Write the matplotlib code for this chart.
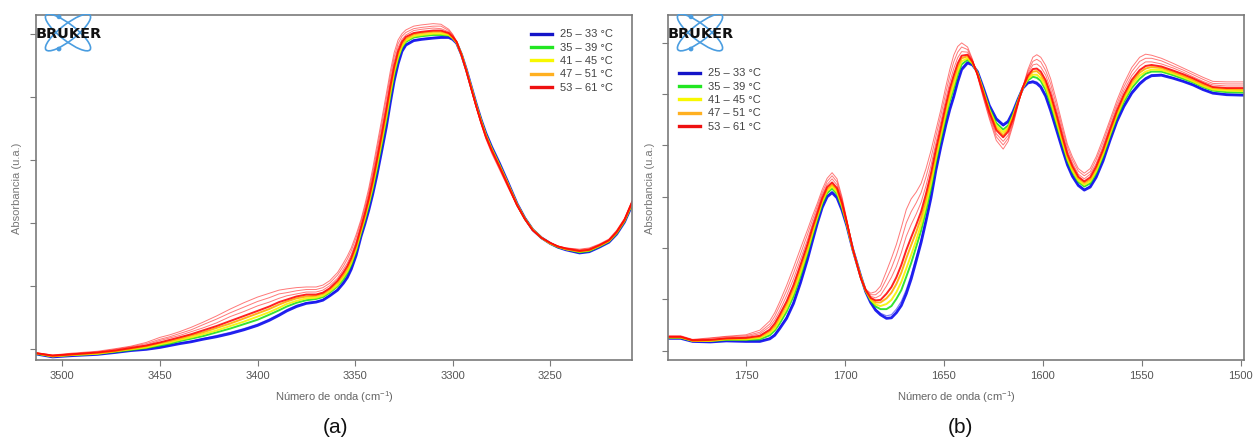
import matplotlib
matplotlib.use('Agg')
import matplotlib.pyplot as plt
from matplotlib.patches import Ellipse, Circle
from matplotlib.lines import Line2D

plt.rcParams['font.family'] = ['Liberation Sans', 'DejaVu Sans']
plt.rcParams['mathtext.fontset'] = 'custom'
plt.rcParams['mathtext.rm'] = 'Liberation Sans'

# ---------------- data ----------------
temps = [25, 29, 37, 43, 49, 53, 56, 59, 61]
legend_labels = ['25 – 33 °C', '35 – 39 °C', '41 – 45 °C', '47 – 51 °C', '53 – 61 °C']

# panel (a): 3515-3208 cm-1
a_wavenumber = [3514, 3505, 3495, 3482, 3473, 3465, 3457, 3450, 3445, 3440,
                3434, 3428, 3421, 3414, 3407, 3400, 3394, 3389, 3385, 3380,
                3375, 3370, 3366.5, 3363, 3359, 3356, 3354, 3352, 3349.5, 3347,
                3345, 3343, 3341, 3339, 3336.5, 3334, 3332, 3330, 3328, 3326,
                3324, 3320, 3316, 3310, 3306, 3302, 3300, 3298, 3295.5, 3293,
                3290.5, 3288, 3285.5, 3283, 3280, 3276, 3272, 3267, 3263, 3259,
                3254.5, 3250, 3246, 3242, 3235, 3230, 3225, 3220, 3216, 3212,
                3208]
a_25 = [-.008, -.013, -.011, -.009, -.006, -.003, -.001, .002, .005, .008,
        .011, .015, .019, .024, .030, .037, .045, .053, .060, .067,
        .072, .074, .077, .084, .093, .104, .113, .126, .148, .178,
        .198, .220, .245, .273, .312, .352, .390, .425, .452, .472,
        .482, .489, .491, .493, .494, .494, .491, .485, .467, .443,
        .416, .389, .364, .342, .320, .294, .266, .230, .207, .189,
        .176, .167, .161, .157, .152, .154, .161, .169, .182, .201,
        .229]
a_29 = [-.008, -.013, -.011, -.009, -.006, -.003, .000, .003, .006, .009,
        .012, .016, .021, .026, .032, .039, .047, .055, .062, .069,
        .073, .075, .078, .085, .094, .106, .115, .128, .150, .179,
        .200, .222, .247, .275, .315, .355, .393, .427, .454, .473,
        .483, .490, .492, .494, .495, .495, .491, .485, .467, .443,
        .416, .389, .364, .342, .320, .294, .266, .230, .207, .189,
        .176, .167, .161, .157, .152, .154, .161, .169, .182, .201,
        .229]
a_37 = [-.008, -.012, -.010, -.008, -.005, -.002, .001, .005, .008, .012,
        .016, .020, .026, .032, .039, .046, .054, .061, .067, .073,
        .077, .079, .082, .089, .099, .110, .120, .133, .155, .183,
        .204, .227, .253, .282, .322, .363, .400, .434, .460, .478,
        .487, .494, .496, .498, .498, .497, .493, .486, .467, .442,
        .415, .388, .363, .340, .318, .292, .264, .229, .207, .189,
        .176, .167, .161, .158, .153, .155, .162, .170, .183, .202,
        .230]
a_43 = [-.007, -.012, -.010, -.008, -.004, -.001, .002, .007, .010, .014,
        .018, .023, .029, .036, .043, .051, .058, .065, .071, .076,
        .080, .081, .084, .091, .101, .114, .123, .136, .158, .186,
        .207, .231, .257, .287, .327, .368, .405, .439, .463, .480,
        .489, .496, .498, .500, .500, .498, .493, .486, .467, .442,
        .415, .387, .362, .339, .317, .291, .264, .229, .206, .189,
        .176, .167, .162, .158, .154, .156, .163, .171, .184, .203,
        .231]
a_49 = [-.007, -.012, -.009, -.007, -.004, .000, .004, .009, .012, .016,
        .021, .026, .033, .040, .048, .056, .063, .070, .075, .080,
        .083, .084, .087, .094, .105, .117, .127, .140, .162, .189,
        .211, .235, .262, .293, .333, .374, .411, .444, .468, .484,
        .492, .499, .501, .503, .503, .500, .494, .486, .467, .442,
        .414, .386, .361, .338, .316, .290, .263, .228, .206, .189,
        .176, .167, .162, .158, .155, .157, .163, .171, .185, .204,
        .232]
a_53 = [-.007, -.011, -.009, -.006, -.003, .001, .005, .010, .014, .018,
        .023, .029, .036, .044, .052, .060, .067, .074, .078, .083,
        .086, .086, .089, .096, .108, .121, .131, .144, .165, .192,
        .214, .238, .266, .297, .338, .380, .416, .448, .472, .487,
        .495, .501, .503, .505, .505, .501, .495, .487, .466, .441,
        .413, .386, .360, .337, .315, .289, .262, .228, .206, .188,
        .176, .168, .162, .159, .155, .157, .164, .172, .185, .204,
        .233]
a_56 = [-.007, -.011, -.008, -.006, -.002, .002, .006, .013, .017, .021,
        .027, .033, .041, .051, .059, .068, .074, .080, .084, .087,
        .090, .090, .093, .100, .112, .126, .136, .149, .170, .196,
        .219, .244, .273, .305, .346, .388, .424, .456, .478, .491,
        .498, .505, .507, .509, .508, .503, .496, .487, .466, .441,
        .413, .385, .359, .336, .313, .287, .261, .227, .206, .188,
        .176, .168, .162, .159, .156, .158, .164, .172, .186, .205,
        .234]
a_59 = [-.006, -.010, -.008, -.005, -.001, .003, .008, .015, .019, .024,
        .030, .038, .047, .057, .066, .075, .081, .087, .089, .092,
        .094, .094, .097, .104, .117, .131, .142, .155, .176, .201,
        .224, .249, .279, .312, .354, .397, .432, .463, .484, .496,
        .502, .508, .510, .512, .512, .505, .498, .488, .466, .440,
        .412, .384, .358, .334, .312, .286, .259, .227, .205, .188,
        .176, .168, .163, .160, .157, .159, .165, .173, .187, .206,
        .235]
a_61 = [-.006, -.010, -.007, -.004, .000, .004, .010, .018, .022, .027,
        .034, .042, .052, .063, .073, .082, .088, .093, .095, .097,
        .098, .098, .101, .108, .121, .136, .147, .160, .181, .205,
        .229, .255, .286, .320, .362, .405, .440, .470, .490, .500,
        .506, .512, .514, .516, .515, .507, .499, .488, .466, .440,
        .411, .383, .357, .333, .310, .284, .258, .226, .205, .188,
        .176, .168, .163, .160, .158, .160, .166, .174, .188, .207,
        .236]

# panel (b): 1790-1498 cm-1
b_wavenumber = [1789, 1783, 1777, 1768, 1760, 1750, 1743, 1738, 1735.5, 1733,
                1729.5, 1726, 1722.5, 1719, 1716.5, 1714, 1711.5, 1709, 1706.5, 1704,
                1701.5, 1699, 1696, 1692, 1689.5, 1687, 1684.5, 1682, 1679, 1676.5,
                1674, 1671.5, 1669, 1666.5, 1664, 1661.5, 1659, 1656.5, 1654, 1651.5,
                1649, 1647, 1645, 1643, 1641, 1638, 1635.5, 1633, 1630, 1627,
                1623.5, 1620, 1617.5, 1615, 1612.5, 1610, 1607.5, 1605, 1603, 1601,
                1598.5, 1596, 1593, 1590, 1587.5, 1585, 1582, 1579, 1576, 1573,
                1569.5, 1566, 1562.5, 1559, 1555, 1551, 1548, 1545, 1540, 1534,
                1529, 1524, 1519, 1514, 1507, 1498]
b_25 = [.024, .024, .018, .017, .019, .018, .018, .023, .030, .043,
        .063, .092, .132, .177, .213, .248, .279, .300, .308, .298,
        .274, .243, .197, .145, .115, .094, .079, .070, .063, .064,
        .074, .088, .111, .140, .175, .211, .253, .298, .352, .398,
        .440, .470, .495, .524, .548, .561, .557, .544, .512, .478,
        .452, .440, .447, .466, .490, .512, .522, .524, .521, .514,
        .496, .468, .430, .392, .362, .340, .322, .313, .319, .338,
        .370, .410, .447, .476, .502, .520, .530, .536, .537, .531,
        .525, .518, .509, .502, .499, .498]
b_29 = [.024, .024, .018, .017, .019, .019, .019, .025, .032, .046,
        .066, .096, .135, .180, .215, .250, .281, .302, .310, .300,
        .275, .244, .197, .145, .115, .095, .081, .073, .068, .070,
        .081, .096, .119, .148, .182, .217, .258, .303, .356, .402,
        .444, .474, .499, .528, .551, .563, .558, .544, .511, .477,
        .450, .438, .445, .465, .489, .512, .523, .526, .524, .517,
        .499, .471, .433, .394, .364, .342, .324, .315, .321, .340,
        .372, .412, .449, .478, .505, .523, .532, .538, .539, .532,
        .526, .519, .510, .503, .500, .499]
b_37 = [.025, .025, .019, .019, .021, .021, .022, .030, .039, .053,
        .076, .106, .145, .189, .223, .256, .286, .307, .316, .305,
        .279, .245, .197, .144, .116, .098, .086, .081, .081, .087,
        .101, .118, .144, .171, .202, .234, .273, .316, .368, .412,
        .455, .486, .511, .538, .558, .567, .559, .542, .508, .473,
        .444, .431, .439, .461, .488, .513, .527, .534, .532, .526,
        .508, .480, .441, .402, .370, .348, .329, .320, .326, .346,
        .379, .418, .455, .485, .512, .530, .540, .544, .544, .537,
        .530, .523, .514, .507, .504, .503]
b_43 = [.026, .026, .019, .019, .022, .022, .025, .034, .043, .059,
        .082, .113, .152, .194, .228, .260, .290, .311, .320, .309,
        .282, .247, .197, .144, .117, .099, .090, .087, .091, .099,
        .114, .134, .160, .187, .215, .246, .284, .326, .375, .420,
        .463, .493, .519, .545, .564, .570, .560, .541, .506, .470,
        .439, .426, .435, .458, .486, .513, .530, .538, .538, .531,
        .514, .487, .447, .406, .374, .351, .332, .323, .330, .350,
        .383, .422, .459, .490, .517, .536, .544, .548, .547, .540,
        .533, .525, .516, .509, .507, .506]
b_49 = [.026, .026, .020, .020, .023, .024, .027, .038, .048, .065,
        .090, .121, .160, .201, .234, .264, .294, .315, .324, .314,
        .285, .248, .197, .143, .117, .102, .094, .094, .102, .113,
        .130, .152, .180, .206, .231, .259, .296, .337, .385, .428,
        .472, .503, .529, .553, .570, .574, .562, .540, .504, .467,
        .434, .420, .431, .455, .485, .513, .533, .544, .545, .538,
        .521, .494, .454, .412, .379, .356, .336, .327, .334, .355,
        .388, .427, .464, .495, .523, .542, .550, .553, .551, .543,
        .536, .528, .519, .512, .510, .509]
b_53 = [.027, .027, .020, .021, .024, .025, .029, .041, .053, .070,
        .096, .128, .167, .207, .239, .268, .297, .319, .328, .317,
        .288, .249, .198, .142, .118, .103, .098, .099, .111, .124,
        .143, .167, .196, .221, .245, .271, .306, .346, .393, .435,
        .479, .511, .537, .560, .575, .577, .563, .539, .502, .465,
        .430, .416, .427, .452, .484, .514, .536, .549, .550, .544,
        .527, .500, .460, .417, .383, .360, .339, .330, .338, .359,
        .392, .431, .468, .499, .528, .547, .555, .557, .554, .546,
        .539, .531, .522, .514, .512, .512]
b_56 = [.027, .027, .021, .022, .025, .027, .033, .047, .060, .078,
        .107, .140, .178, .216, .246, .275, .303, .324, .335, .323,
        .292, .251, .198, .142, .118, .106, .103, .108, .126, .143,
        .164, .191, .223, .246, .266, .289, .322, .361, .405, .447,
        .491, .523, .550, .571, .583, .582, .565, .538, .498, .460,
        .423, .408, .420, .448, .482, .514, .540, .557, .559, .553,
        .537, .510, .469, .425, .389, .366, .344, .335, .344, .365,
        .399, .437, .475, .507, .536, .555, .563, .563, .559, .551,
        .543, .534, .525, .518, .516, .516]
b_59 = [.028, .028, .021, .024, .027, .029, .036, .052, .067, .087,
        .117, .151, .188, .226, .254, .281, .308, .330, .341, .329,
        .296, .253, .198, .141, .119, .109, .109, .117, .140, .161,
        .186, .216, .249, .271, .288, .308, .339, .375, .418, .459,
        .503, .536, .563, .582, .592, .587, .566, .536, .495, .456,
        .417, .401, .414, .444, .480, .515, .544, .564, .568, .563,
        .546, .520, .478, .432, .396, .372, .350, .341, .349, .372,
        .406, .444, .481, .514, .544, .564, .570, .570, .565, .555,
        .547, .538, .529, .521, .520, .520]
b_61 = [.029, .029, .022, .025, .028, .031, .040, .058, .074, .095,
        .127, .162, .199, .235, .262, .287, .314, .336, .347, .335,
        .300, .255, .198, .140, .120, .112, .115, .126, .155, .180,
        .207, .240, .275, .296, .309, .326, .355, .390, .430, .470,
        .515, .548, .576, .593, .600, .592, .568, .535, .492, .452,
        .410, .393, .408, .440, .478, .515, .548, .572, .577, .572,
        .556, .530, .487, .440, .402, .378, .355, .346, .355, .378,
        .413, .450, .488, .521, .552, .572, .578, .576, .570, .560,
        .551, .542, .533, .525, .524, .524]

a_curves = [a_25, a_29, a_37, a_43, a_49, a_53, a_56, a_59, a_61]
b_curves = [b_25, b_29, b_37, b_43, b_49, b_53, b_56, b_59, b_61]
a_xticks = [3500, 3450, 3400, 3350, 3300, 3250]
b_xticks = [1750, 1700, 1650, 1600, 1550, 1500]

# ---------------- styles ----------------
BLUE, GREEN, YELLOW, ORANGE, RED = '#0a0aee', '#10dd10', '#f4f400', '#ffaa00', '#ff0a0a'
curve_colors = [BLUE, BLUE, GREEN, YELLOW, ORANGE, RED, RED, RED, RED]
curve_widths = [2.0, 0.8, 1.4, 1.4, 1.4, 1.4, 0.7, 0.7, 0.7]
curve_alphas = [0.9, 0.55, 0.85, 0.9, 0.9, 0.9, 0.55, 0.55, 0.55]
legend_colors = ['#1414c8', '#22e622', '#f8f800', '#ffb020', '#ee1010']
FRAME = '#7a7a7a'

W, H = 1253, 440
fig = plt.figure(figsize=(W / 100, H / 100), dpi=100)


def px_axes(x0, y0, x1, y1):
    return fig.add_axes([x0 / W, 1 - y1 / H, (x1 - x0) / W, (y1 - y0) / H])


def style_axes(ax, xlim, ylim, xticks, yticks):
    ax.set_xlim(*xlim)
    ax.set_ylim(*ylim)
    ax.set_xticks(xticks)
    ax.set_yticks(yticks)
    ax.tick_params(axis='both', direction='out', length=4, width=0.8, color=FRAME,
                   labelsize=8, labelcolor='#555555', pad=4, labelleft=False)
    for s in ax.spines.values():
        s.set_color(FRAME)
        s.set_linewidth(1.2)


def bruker_logo(x0, y0):
    lax = px_axes(x0, y0, x0 + 72, y0 + 48)
    lax.set_xlim(0, 72)
    lax.set_ylim(48, 0)
    lax.axis('off')
    c = '#4a9de0'
    for ang in (38, -38):
        lax.add_patch(Ellipse((32, 18.5), 56, 16, angle=ang, fill=False, ec=c, lw=1.2))
    lax.add_patch(Circle((23, 2.8), 1.7, color=c))
    lax.add_patch(Circle((23, 35.0), 1.7, color=c))
    lax.text(0, 20.5, 'BRUKER', fontsize=10.4, fontweight='bold', family='DejaVu Sans',
             va='center', ha='left', color='#111111')


ax_a = px_axes(36, 15, 631.5, 359.5)
ax_b = px_axes(668.3, 15, 1244.3, 359.5)

for ax, wn, curves in ((ax_a, a_wavenumber, a_curves), (ax_b, b_wavenumber, b_curves)):
    for vals, col, lw, al in zip(curves, curve_colors, curve_widths, curve_alphas):
        ax.plot(wn, vals, color=col, lw=lw, alpha=al, solid_capstyle='round',
                solid_joinstyle='round')

style_axes(ax_a, (3513.5, 3208.4), (-0.0171, 0.5297), a_xticks, [0, 0.1, 0.2, 0.3, 0.4, 0.5])
style_axes(ax_b, (1789.3, 1498.1), (-0.0172, 0.6544), b_xticks, [0, 0.1, 0.2, 0.3, 0.4, 0.5, 0.6])

handles = [Line2D([], [], color=c, lw=2.4) for c in legend_colors]
for ax, anchor in ((ax_a, (0.8316, 0.958)), (ax_b, (0.0186, 0.845))):
    leg = ax.legend(handles, legend_labels, loc='upper left', bbox_to_anchor=anchor,
                    frameon=False, fontsize=8, handlelength=1.9, handletextpad=0.7,
                    labelspacing=0.3, borderpad=0, borderaxespad=0)
    for t in leg.get_texts():
        t.set_color('#444444')

xlab = r'Número de onda (cm$^{\mathregular{-1}}$)'
fig.text(334 / W, 1 - 397 / H, xlab, ha='center', va='center', fontsize=8, color='#666666')
fig.text(956 / W, 1 - 397 / H, xlab, ha='center', va='center', fontsize=8, color='#666666')
fig.text(17 / W, 1 - 188 / H, 'Absorbancia (u.a.)', rotation=90, ha='center', va='center',
         fontsize=8, color='#777777')
fig.text(650 / W, 1 - 188 / H, 'Absorbancia (u.a.)', rotation=90, ha='center', va='center',
         fontsize=8, color='#777777')
fig.text(335 / W, 1 - 427 / H, '(a)', ha='center', va='center', fontsize=15, color='#111111')
fig.text(960 / W, 1 - 427 / H, '(b)', ha='center', va='center', fontsize=15, color='#111111')

bruker_logo(36, 14)
bruker_logo(668, 14)

fig.savefig('out.png', dpi=100, facecolor='white')
